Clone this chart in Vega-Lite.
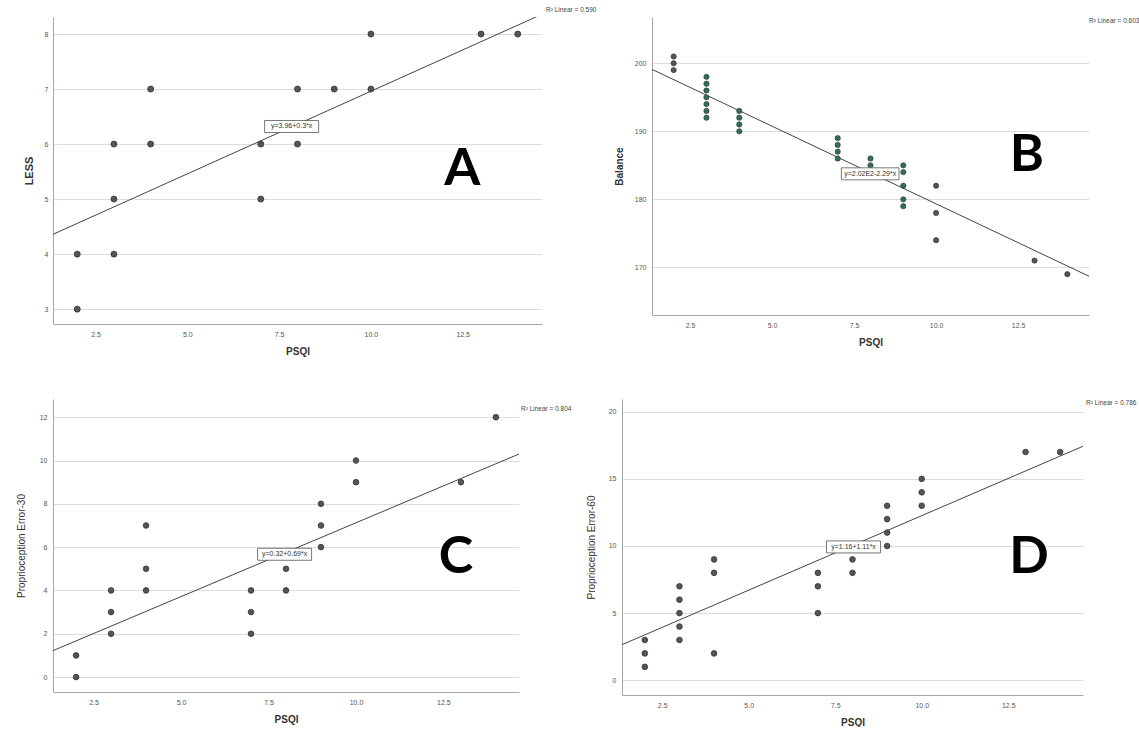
{
  "$schema": "https://vega.github.io/schema/vega-lite/v6.json",
  "background": "white",
  "padding": {"left": 16, "top": 6, "right": 0, "bottom": 0},
  "config": {
    "font": "Liberation Sans",
    "view": {"stroke": null},
    "axis": {
      "labelFontSize": 7,
      "labelColor": "#555555",
      "titleColor": "#333333",
      "titleFontSize": 10,
      "domainColor": "#a6a6a6",
      "gridColor": "#dddddd",
      "ticks": false
    },
    "title": {"fontSize": 6.5, "fontWeight": "normal", "color": "#444444"}
  },
  "datasets": {
    "a": [{"x":2,"y":3},{"x":2,"y":4},{"x":3,"y":4},{"x":3,"y":5},{"x":3,"y":6},{"x":4,"y":6},{"x":4,"y":7},{"x":7,"y":5},{"x":7,"y":6},{"x":8,"y":6},{"x":8,"y":7},{"x":9,"y":7},{"x":10,"y":7},{"x":10,"y":8},{"x":13,"y":8},{"x":14,"y":8}],
    "b": [{"x":2,"y":199},{"x":2,"y":200},{"x":2,"y":201},{"x":3,"y":192},{"x":3,"y":193},{"x":3,"y":194},{"x":3,"y":195},{"x":3,"y":196},{"x":3,"y":197},{"x":3,"y":198},{"x":4,"y":190},{"x":4,"y":191},{"x":4,"y":192},{"x":4,"y":193},{"x":7,"y":186},{"x":7,"y":187},{"x":7,"y":188},{"x":7,"y":189},{"x":8,"y":185},{"x":8,"y":186},{"x":9,"y":179},{"x":9,"y":180},{"x":9,"y":182},{"x":9,"y":184},{"x":9,"y":185},{"x":10,"y":174},{"x":10,"y":178},{"x":10,"y":182},{"x":13,"y":171},{"x":14,"y":169}],
    "c": [{"x":2,"y":0},{"x":2,"y":1},{"x":3,"y":2},{"x":3,"y":3},{"x":3,"y":4},{"x":4,"y":4},{"x":4,"y":5},{"x":4,"y":7},{"x":7,"y":2},{"x":7,"y":3},{"x":7,"y":4},{"x":8,"y":4},{"x":8,"y":5},{"x":9,"y":6},{"x":9,"y":7},{"x":9,"y":8},{"x":10,"y":9},{"x":10,"y":10},{"x":13,"y":9},{"x":14,"y":12}],
    "d": [{"x":2,"y":1},{"x":2,"y":2},{"x":2,"y":3},{"x":3,"y":3},{"x":3,"y":4},{"x":3,"y":5},{"x":3,"y":6},{"x":3,"y":7},{"x":4,"y":2},{"x":4,"y":8},{"x":4,"y":9},{"x":7,"y":5},{"x":7,"y":7},{"x":7,"y":8},{"x":8,"y":8},{"x":8,"y":9},{"x":9,"y":10},{"x":9,"y":11},{"x":9,"y":12},{"x":9,"y":13},{"x":10,"y":13},{"x":10,"y":14},{"x":10,"y":15},{"x":13,"y":17},{"x":14,"y":17}],
    "fitA": [{"x":1.34,"y":4.36},{"x":14.66,"y":8.36}],
    "fitB": [{"x":1.34,"y":199.1},{"x":14.66,"y":168.7}],
    "fitC": [{"x":1.34,"y":1.22},{"x":14.66,"y":10.3}],
    "fitD": [{"x":1.34,"y":2.65},{"x":14.66,"y":17.43}],
    "eqA": [{"x":7.84,"y":6.32,"label":"y=3.96+0.3*x"}],
    "eqB": [{"x":7.99,"y":183.75,"label":"y=2.02E2-2.29*x"}],
    "eqC": [{"x":7.96,"y":5.67,"label":"y=0.32+0.69*x"}],
    "eqD": [{"x":8.03,"y":9.93,"label":"y=1.16+1.11*x"}],
    "letA": [{"x":12.49,"y":5.55,"label":"A"}],
    "letB": [{"x":12.77,"y":186.5,"label":"B"}],
    "letC": [{"x":12.86,"y":5.53,"label":"C"}],
    "letD": [{"x":13.1,"y":9.18,"label":"D"}]
  },
  "spacing": 43,
  "vconcat": [
    {
      "hconcat": [
        {
          "width": 489, "height": 307,
          "title": {"text": "R\u00b2 Linear = 0.590", "anchor": "end", "align": "left", "dx": 4, "offset": 4},
          "encoding": {
            "x": {"field": "x", "type": "quantitative", "scale": {"domain": [1.34, 14.66], "nice": false, "zero": false},
              "axis": {"title": "PSQI", "values": [2.5, 5, 7.5, 10, 12.5], "format": ".1f", "grid": false, "labelPadding": 6, "titleFontWeight": "bold", "titlePadding": 9}},
            "y": {"field": "y", "type": "quantitative", "scale": {"domain": [2.73, 8.31], "nice": false, "zero": false},
              "axis": {"title": "LESS", "values": [3, 4, 5, 6, 7, 8], "grid": true, "labelPadding": 5, "titleFontWeight": "bold", "titleFontSize": 11, "titlePadding": 10}}
          },
          "layer": [
            {"data": {"name": "fitA"}, "mark": {"type": "line", "color": "#444444", "strokeWidth": 1, "clip": true}},
            {"data": {"name": "a"}, "mark": {"type": "point", "filled": true, "size": 36, "color": "#555555", "stroke": "#333333", "strokeWidth": 0.8, "opacity": 1}},
            {"data": {"name": "eqA"}, "mark": {"type": "point", "shape": "M-4.5,-1H4.5V1H-4.5Z", "size": 144, "filled": true, "fill": "white", "stroke": "#555555", "strokeWidth": 0.8, "opacity": 1}},
            {"data": {"name": "eqA"}, "mark": {"type": "text", "fontSize": 7, "color": "#333333"}, "encoding": {"text": {"field": "label"}}},
            {"data": {"name": "letA"}, "mark": {"type": "text", "fontSize": 52, "font": "Lato", "fontWeight": "bold", "color": "#000000", "baseline": "middle"}, "encoding": {"text": {"field": "label"}}}
          ]
        },
        {
          "width": 437, "height": 298,
          "title": {"text": "R\u00b2 Linear = 0.603", "anchor": "end", "align": "left", "dx": 0, "offset": -7},
          "encoding": {
            "x": {"field": "x", "type": "quantitative", "scale": {"domain": [1.34, 14.66], "nice": false, "zero": false},
              "axis": {"title": "PSQI", "values": [2.5, 5, 7.5, 10, 12.5], "format": ".1f", "grid": false, "labelPadding": 6, "titleFontWeight": "bold", "titlePadding": 9}},
            "y": {"field": "y", "type": "quantitative", "scale": {"domain": [163, 206.8], "nice": false, "zero": false},
              "axis": {"title": "Balance", "values": [170, 180, 190, 200], "grid": true, "labelPadding": 6, "titleFontWeight": "bold", "titlePadding": 10}}
          },
          "layer": [
            {"data": {"name": "fitB"}, "mark": {"type": "line", "color": "#444444", "strokeWidth": 1, "clip": true}},
            {"data": {"name": "b"}, "mark": {"type": "point", "filled": true, "size": 28, "stroke": "#333333", "strokeWidth": 0.6, "opacity": 1},
              "encoding": {"color": {"condition": {"test": "datum.x >= 3 && datum.x <= 9", "value": "#2f6e5c"}, "value": "#4f5552"}}},
            {"data": {"name": "eqB"}, "mark": {"type": "point", "shape": "M-4.8,-1H4.8V1H-4.8Z", "size": 144, "filled": true, "fill": "white", "stroke": "#555555", "strokeWidth": 0.8, "opacity": 1}},
            {"data": {"name": "eqB"}, "mark": {"type": "text", "fontSize": 7, "color": "#333333"}, "encoding": {"text": {"field": "label"}}},
            {"data": {"name": "letB"}, "mark": {"type": "text", "fontSize": 52, "font": "Lato", "fontWeight": "bold", "color": "#000000", "baseline": "middle"}, "encoding": {"text": {"field": "label"}}}
          ]
        }
      ],
      "spacing": 110,
      "bounds": "flush"
    },
    {
      "hconcat": [
        {
          "width": 466, "height": 293,
          "title": {"text": "R\u00b2 Linear = 0.804", "anchor": "end", "align": "left", "dx": 2, "offset": -13},
          "encoding": {
            "x": {"field": "x", "type": "quantitative", "scale": {"domain": [1.34, 14.66], "nice": false, "zero": false},
              "axis": {"title": "PSQI", "values": [2.5, 5, 7.5, 10, 12.5], "format": ".1f", "grid": false, "labelPadding": 6, "titleFontWeight": "bold", "titlePadding": 9}},
            "y": {"field": "y", "type": "quantitative", "scale": {"domain": [-0.69, 12.84], "nice": false, "zero": false},
              "axis": {"title": "Proprioception Error-30", "values": [0, 2, 4, 6, 8, 10, 12], "grid": true, "labelPadding": 6, "titleFontWeight": "normal", "titlePadding": 13}}
          },
          "layer": [
            {"data": {"name": "fitC"}, "mark": {"type": "line", "color": "#444444", "strokeWidth": 1, "clip": true}},
            {"data": {"name": "c"}, "mark": {"type": "point", "filled": true, "size": 32, "color": "#555555", "stroke": "#333333", "strokeWidth": 0.8, "opacity": 1}},
            {"data": {"name": "eqC"}, "mark": {"type": "point", "shape": "M-4.5,-1H4.5V1H-4.5Z", "size": 144, "filled": true, "fill": "white", "stroke": "#555555", "strokeWidth": 0.8, "opacity": 1}},
            {"data": {"name": "eqC"}, "mark": {"type": "text", "fontSize": 7, "color": "#333333"}, "encoding": {"text": {"field": "label"}}},
            {"data": {"name": "letC"}, "mark": {"type": "text", "fontSize": 52, "font": "Lato", "fontWeight": "bold", "color": "#000000", "baseline": "middle"}, "encoding": {"text": {"field": "label"}}}
          ]
        },
        {
          "width": 461, "height": 296,
          "title": {"text": "R\u00b2 Linear = 0.786", "anchor": "end", "align": "left", "dx": 3, "offset": -7},
          "encoding": {
            "x": {"field": "x", "type": "quantitative", "scale": {"domain": [1.34, 14.66], "nice": false, "zero": false},
              "axis": {"title": "PSQI", "values": [2.5, 5, 7.5, 10, 12.5], "format": ".1f", "grid": false, "labelPadding": 6, "titleFontWeight": "bold", "titlePadding": 9}},
            "y": {"field": "y", "type": "quantitative", "scale": {"domain": [-1.1, 20.95], "nice": false, "zero": false},
              "axis": {"title": "Proprioception Error-60", "values": [0, 5, 10, 15, 20], "grid": true, "labelPadding": 6, "titleFontWeight": "normal", "titlePadding": 12}}
          },
          "layer": [
            {"data": {"name": "fitD"}, "mark": {"type": "line", "color": "#444444", "strokeWidth": 1, "clip": true}},
            {"data": {"name": "d"}, "mark": {"type": "point", "filled": true, "size": 32, "color": "#555555", "stroke": "#333333", "strokeWidth": 0.8, "opacity": 1}},
            {"data": {"name": "eqD"}, "mark": {"type": "point", "shape": "M-4.5,-1H4.5V1H-4.5Z", "size": 144, "filled": true, "fill": "white", "stroke": "#555555", "strokeWidth": 0.8, "opacity": 1}},
            {"data": {"name": "eqD"}, "mark": {"type": "text", "fontSize": 7, "color": "#333333"}, "encoding": {"text": {"field": "label"}}},
            {"data": {"name": "letD"}, "mark": {"type": "text", "fontSize": 52, "font": "Lato", "fontWeight": "bold", "color": "#000000", "baseline": "middle"}, "encoding": {"text": {"field": "label"}}}
          ]
        }
      ],
      "spacing": 103,
      "bounds": "flush"
    }
  ]
}
